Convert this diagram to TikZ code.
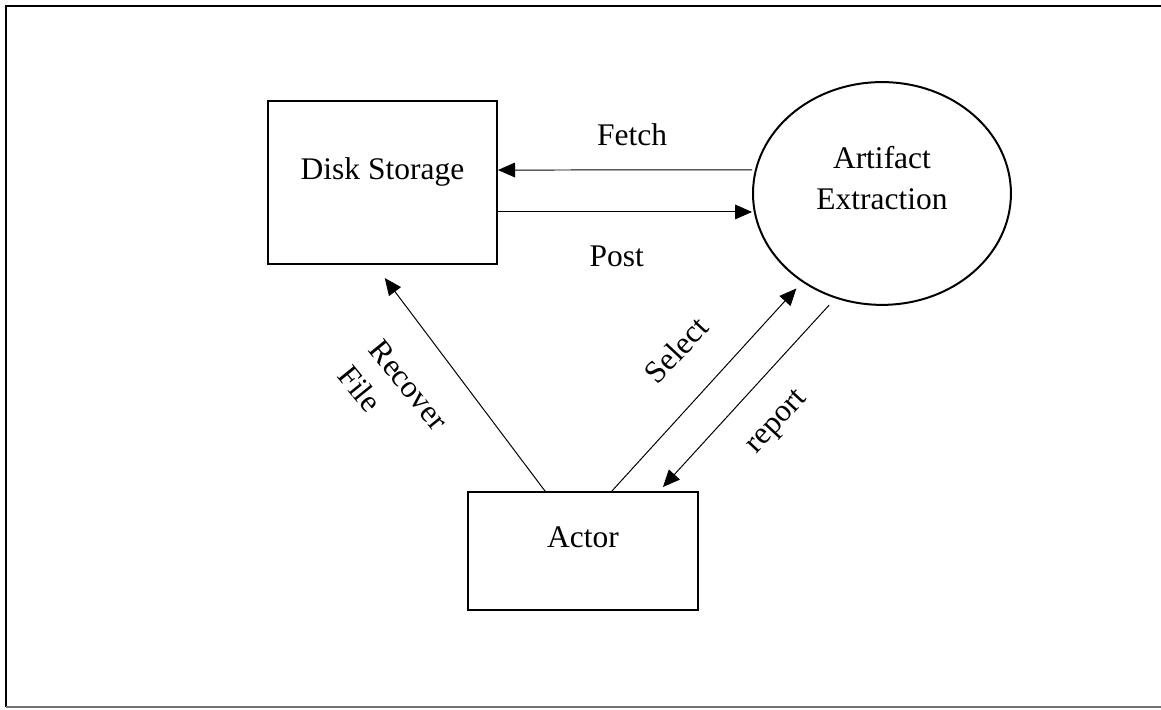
\documentclass[tikz,border=0pt]{standalone}
\usepackage{fontspec}
\setmainfont{Liberation Serif}
\usetikzlibrary{arrows.meta,shapes.geometric}

\tikzset{
  box/.style={draw, line width=1pt, rectangle},
  arr/.style={line width=0.5pt, -{Triangle[length=0.3cm,width=0.26cm]}}
}

\begin{document}
\begin{tikzpicture}[font=\fontsize{15.8}{20.6}\selectfont]
    \useasboundingbox (0,0) rectangle (20.48,-12.507);
    \draw[line width=1pt] (0.106,-12.48) -- (0.106,-0.106) -- (21,-0.106);
    \draw[line width=1pt, black!55] (0.106,-12.48) -- (21,-12.48);

    \node[box, minimum width=4.04cm, minimum height=2.875cm,
          label={[yshift=0.19cm]center:Disk Storage}] (disk) at (6.747,-3.219) {};
    \node[box, minimum width=4.057cm, minimum height=2.082cm,
          label={[yshift=0.25cm]center:Actor}] (actor) at (10.284,-9.720) {};
    \node[draw, line width=1pt, ellipse, minimum width=4.55cm, minimum height=3.93cm,
          label={[yshift=0.28cm, align=center]center:Artifact\\Extraction}] (ext) at (15.558,-3.413) {};

    \node (fetch) at (11.15,-2.38) {Fetch};
    \node (post) at (10.88,-4.53) {Post};
    \node[rotate=-51, align=left] (recover) at (6.93,-7.02) {Recover\\File};
    \node[rotate=47] (select) at (11.925,-6.174) {Select};
    \node[rotate=47] (report) at (13.724,-7.46) {report};

    \draw[arr] ([yshift=0.415cm]ext.west) -- ([yshift=0.22cm]disk.east);
    \draw[arr] ([yshift=-0.52cm]disk.east) -- ([yshift=-0.326cm]ext.west);
    \draw[arr] ([xshift=-0.67cm]actor.north) -- ([shift={(0.04cm,-0.23cm)}]disk.south);
    \draw[arr, shorten >=0.15cm] ([xshift=0.51cm]actor.north) -- (ext.228);
    \draw[arr, shorten <=0.16cm] (ext.246) -- ([shift={(1.41cm,0.07cm)}]actor.north);
\end{tikzpicture}
\end{document}
